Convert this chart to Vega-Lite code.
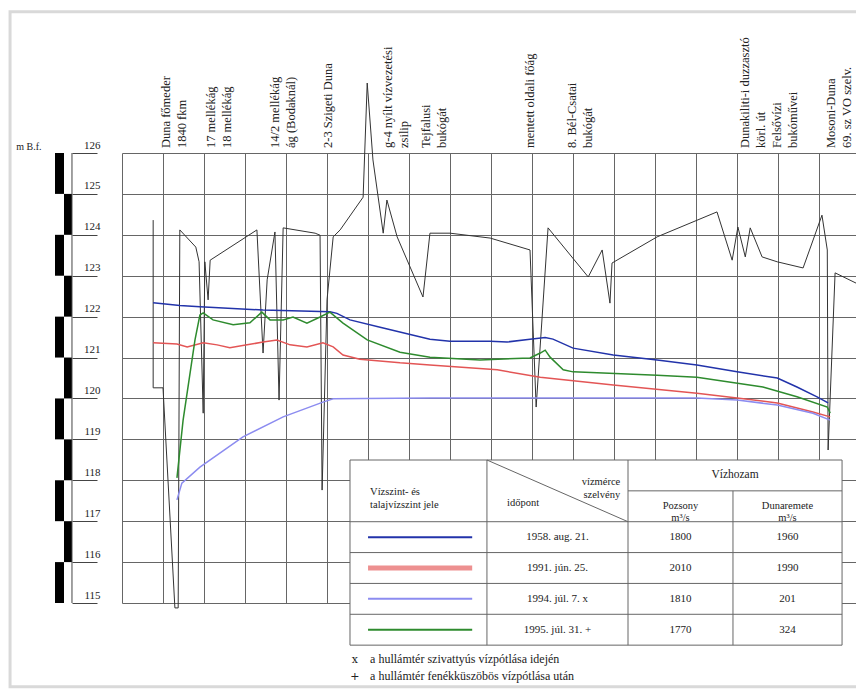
{
  "$schema": "https://vega.github.io/schema/vega-lite/v6.json",
  "width": 734,
  "height": 450,
  "autosize": {"type": "none"},
  "padding": {"left": 122, "top": 153, "right": 0, "bottom": 86},
  "background": "white",
  "config": {"view": {"stroke": null}, "font": "Liberation Serif", "text": {"font": "Liberation Serif"}},
  "datasets": {
    "profile": [
      {"km":0.76,"z":124.36},{"km":0.76,"z":120.26},{"km":1.0,"z":120.26},{"km":1.29,"z":114.88},{"km":1.37,"z":114.88},{"km":1.41,"z":124.12},{"km":1.8,"z":123.7},{"km":1.88,"z":123.34},{"km":1.98,"z":119.64},{"km":2.02,"z":123.34},{"km":2.1,"z":122.41},{"km":2.15,"z":123.38},{"km":3.29,"z":124.12},{"km":3.44,"z":121.11},{"km":3.54,"z":122.9},{"km":3.73,"z":124.07},{"km":3.83,"z":119.96},{"km":3.93,"z":124.17},{"km":4.71,"z":124.04},{"km":4.83,"z":123.99},{"km":4.88,"z":117.76},{"km":5.0,"z":122.41},{"km":5.15,"z":123.95},{"km":5.32,"z":124.12},{"km":5.88,"z":124.92},{"km":5.98,"z":127.71},{"km":6.12,"z":125.83},{"km":6.37,"z":124.04},{"km":6.46,"z":124.85},{"km":6.71,"z":123.95},{"km":7.34,"z":122.48},{"km":7.51,"z":124.04},{"km":8.0,"z":124.04},{"km":8.98,"z":123.92},{"km":9.95,"z":123.63},{"km":10.1,"z":119.79},{"km":10.39,"z":124.17},{"km":11.37,"z":122.97},{"km":11.71,"z":123.63},{"km":11.9,"z":122.33},{"km":11.95,"z":123.31},{"km":13.05,"z":123.95},{"km":14.51,"z":124.56},{"km":14.88,"z":123.38},{"km":15.02,"z":124.19},{"km":15.2,"z":123.46},{"km":15.32,"z":124.17},{"km":15.61,"z":123.46},{"km":15.98,"z":123.34},{"km":16.61,"z":123.19},{"km":17.07,"z":124.48},{"km":17.2,"z":123.63},{"km":17.22,"z":118.74},{"km":17.39,"z":123.07},{"km":17.9,"z":122.82}
    ],
    "levels": [
      {"series":"1958","km":0.76,"z":122.34},{"series":"1958","km":1.41,"z":122.27},{"series":"1958","km":1.9,"z":122.24},{"series":"1958","km":3.44,"z":122.16},{"series":"1958","km":5.07,"z":122.12},{"series":"1958","km":5.24,"z":122.08},{"series":"1958","km":5.56,"z":121.92},{"series":"1958","km":6.37,"z":121.72},{"series":"1958","km":7.51,"z":121.45},{"series":"1958","km":8.0,"z":121.4},{"series":"1958","km":8.98,"z":121.4},{"series":"1958","km":9.39,"z":121.38},{"series":"1958","km":9.95,"z":121.45},{"series":"1958","km":10.32,"z":121.49},{"series":"1958","km":10.51,"z":121.45},{"series":"1958","km":11.0,"z":121.23},{"series":"1958","km":11.98,"z":121.06},{"series":"1958","km":13.05,"z":120.94},{"series":"1958","km":14.02,"z":120.82},{"series":"1958","km":15.0,"z":120.65},{"series":"1958","km":15.98,"z":120.5},{"series":"1958","km":16.46,"z":120.28},{"series":"1958","km":16.95,"z":120.04},{"series":"1958","km":17.22,"z":119.89},
      {"series":"1991","km":0.76,"z":121.36},{"series":"1991","km":1.34,"z":121.33},{"series":"1991","km":1.59,"z":121.26},{"series":"1991","km":1.98,"z":121.36},{"series":"1991","km":2.32,"z":121.31},{"series":"1991","km":2.63,"z":121.24},{"series":"1991","km":3.05,"z":121.31},{"series":"1991","km":3.44,"z":121.38},{"series":"1991","km":3.78,"z":121.43},{"series":"1991","km":4.1,"z":121.31},{"series":"1991","km":4.51,"z":121.26},{"series":"1991","km":4.9,"z":121.36},{"series":"1991","km":5.15,"z":121.26},{"series":"1991","km":5.39,"z":121.06},{"series":"1991","km":5.8,"z":120.96},{"series":"1991","km":6.78,"z":120.87},{"series":"1991","km":7.51,"z":120.82},{"series":"1991","km":9.15,"z":120.7},{"series":"1991","km":10.2,"z":120.52},{"series":"1991","km":11.98,"z":120.33},{"series":"1991","km":14.02,"z":120.13},{"series":"1991","km":15.0,"z":120.01},{"series":"1991","km":15.98,"z":119.89},{"series":"1991","km":16.85,"z":119.67},{"series":"1991","km":17.27,"z":119.55},
      {"series":"1994","km":1.34,"z":117.52},{"series":"1994","km":1.46,"z":117.93},{"series":"1994","km":1.9,"z":118.32},{"series":"1994","km":2.95,"z":119.06},{"series":"1994","km":3.93,"z":119.55},{"series":"1994","km":4.9,"z":119.91},{"series":"1994","km":5.15,"z":119.99},{"series":"1994","km":7.51,"z":120.01},{"series":"1994","km":14.02,"z":120.01},{"series":"1994","km":15.0,"z":119.96},{"series":"1994","km":15.98,"z":119.84},{"series":"1994","km":16.85,"z":119.64},{"series":"1994","km":17.27,"z":119.47},
      {"series":"1995","km":1.34,"z":118.06},{"series":"1995","km":1.49,"z":119.47},{"series":"1995","km":1.78,"z":121.43},{"series":"1995","km":1.9,"z":122.04},{"series":"1995","km":1.98,"z":122.09},{"series":"1995","km":2.22,"z":121.92},{"series":"1995","km":2.71,"z":121.8},{"series":"1995","km":3.12,"z":121.85},{"series":"1995","km":3.41,"z":122.11},{"series":"1995","km":3.61,"z":121.92},{"series":"1995","km":3.93,"z":121.92},{"series":"1995","km":4.17,"z":121.99},{"series":"1995","km":4.51,"z":121.84},{"series":"1995","km":4.83,"z":121.99},{"series":"1995","km":5.07,"z":122.11},{"series":"1995","km":5.39,"z":121.84},{"series":"1995","km":5.98,"z":121.43},{"series":"1995","km":6.78,"z":121.13},{"series":"1995","km":7.51,"z":121.01},{"series":"1995","km":8.73,"z":120.94},{"series":"1995","km":9.95,"z":120.99},{"series":"1995","km":10.2,"z":121.11},{"series":"1995","km":10.32,"z":121.18},{"series":"1995","km":10.44,"z":121.01},{"series":"1995","km":10.76,"z":120.7},{"series":"1995","km":11.0,"z":120.65},{"series":"1995","km":13.05,"z":120.57},{"series":"1995","km":14.02,"z":120.52},{"series":"1995","km":15.63,"z":120.28},{"series":"1995","km":16.46,"z":120.04},{"series":"1995","km":17.2,"z":119.79},{"series":"1995","km":17.27,"z":119.64}
    ],
    "bar": [
      {"lo":125,"hi":126,"side":"L"},{"lo":124,"hi":125,"side":"R"},{"lo":123,"hi":124,"side":"L"},{"lo":122,"hi":123,"side":"R"},{"lo":121,"hi":122,"side":"L"},{"lo":120,"hi":121,"side":"R"},{"lo":119,"hi":120,"side":"L"},{"lo":118,"hi":119,"side":"R"},{"lo":117,"hi":118,"side":"L"},{"lo":116,"hi":117,"side":"R"},{"lo":115,"hi":116,"side":"L"}
    ],
    "sites": [
      {"km":1.07,"label":"Duna főmeder\n1840 fkm"},
      {"km":2.17,"label":"17 mellékág\n18 mellékág"},
      {"km":3.73,"label":"14/2 mellékág\nág (Bodaknál)"},
      {"km":5.02,"label":"2-3 Szigeti Duna"},
      {"km":6.48,"label":"g-4 nyílt vízvezetési\nzsilip"},
      {"km":7.41,"label":"Tejfalusi\nbukógát"},
      {"km":9.95,"label":"mentett oldali főág"},
      {"km":10.98,"label":"8. Bél-Csatai\nbukógát"},
      {"km":15.2,"label":"Dunakiliti-i duzzasztó\nkörl. út\nFelsővízi\nbukóművei"},
      {"km":17.3,"label":"Mosoni-Duna\n69. sz VO szelv."}
    ],
    "legend": [
      {"series":"1958","row":1,"date":"1958. aug. 21.","pozsony":1800,"dunaremete":1960},
      {"series":"1991","row":2,"date":"1991. jún. 25.","pozsony":2010,"dunaremete":1990},
      {"series":"1994","row":3,"date":"1994. júl. 7. x","pozsony":1810,"dunaremete":201},
      {"series":"1995","row":4,"date":"1995. júl. 31. +","pozsony":1770,"dunaremete":324}
    ],
    "one": [{}]
  },
  "layer": [
    {
      "data": {"name": "one"},
      "mark": {"type": "rect", "fillOpacity": 0, "stroke": "#d9d9d9", "strokeWidth": 3, "clip": false},
      "encoding": {
        "x": {"datum": -2.73, "type": "quantitative", "scale": {"domain": [0, 17.9], "nice": false, "zero": false}, "axis": null},
        "x2": {"datum": 18.5},
        "y": {"datum": 129.45, "type": "quantitative", "scale": {"domain": [115, 126], "nice": false, "zero": false}, "axis": null},
        "y2": {"datum": 112.95}
      }
    },
    {
      "data": {"name": "profile"},
      "mark": {"type": "line", "color": "#333", "strokeWidth": 1, "clip": false},
      "encoding": {
        "x": {"field": "km", "type": "quantitative", "scale": {"domain": [0, 17.9], "nice": false, "zero": false},
          "axis": {"orient": "bottom", "values": [0,1,2,3,4,5,6,7,8,9,10,11,12,13,14,15,16,17], "grid": true, "gridColor": "#666", "gridWidth": 1, "labels": false, "ticks": false, "domain": false, "title": null}},
        "y": {"field": "z", "type": "quantitative", "scale": {"domain": [115, 126], "nice": false, "zero": false},
          "axis": {"orient": "left", "values": [115,116,117,118,119,120,121,122,123,124,125,126], "grid": true, "gridColor": "#666", "gridWidth": 1, "labels": false, "ticks": false, "domain": false, "title": null}},
        "order": {"value": null}
      }
    },
    {
      "data": {"name": "levels"},
      "mark": {"type": "line", "strokeWidth": 1.5, "clip": false},
      "encoding": {
        "x": {"field": "km", "type": "quantitative", "scale": {"domain": [0, 17.9], "nice": false, "zero": false}, "axis": null},
        "y": {"field": "z", "type": "quantitative", "scale": {"domain": [115, 126], "nice": false, "zero": false},
          "axis": {"orient": "left", "values": [115,116,117,118,119,120,121,122,123,124,125,126], "offset": 25, "tickSize": 25, "tickColor": "#444", "domain": false, "grid": false, "labelPadding": -28, "labelAlign": "right", "labelBaseline": "alphabetic", "labelOffset": -5, "labelFont": "Liberation Serif", "labelFontSize": 11, "labelColor": "#222", "title": null}},
        "color": {"field": "series", "type": "nominal", "scale": {"domain": ["1958","1991","1994","1995"], "range": ["#2233aa","#e35555","#8c8cf0","#2e8b2e"]}, "legend": null}
      }
    },
    {
      "data": {"name": "bar"},
      "transform": [{"filter": "datum.side === 'L'"}],
      "mark": {"type": "rect", "color": "black", "clip": false},
      "encoding": {
        "x": {"datum": -1.634, "type": "quantitative", "scale": {"domain": [0, 17.9], "nice": false, "zero": false}, "axis": null},
        "x2": {"datum": -1.415},
        "y": {"field": "lo", "type": "quantitative", "scale": {"domain": [115, 126], "nice": false, "zero": false}, "axis": null},
        "y2": {"field": "hi"}
      }
    },
    {
      "data": {"name": "bar"},
      "transform": [{"filter": "datum.side === 'R'"}],
      "mark": {"type": "rect", "color": "black", "clip": false},
      "encoding": {
        "x": {"datum": -1.415, "type": "quantitative", "scale": {"domain": [0, 17.9], "nice": false, "zero": false}, "axis": null},
        "x2": {"datum": -1.22},
        "y": {"field": "lo", "type": "quantitative", "scale": {"domain": [115, 126], "nice": false, "zero": false}, "axis": null},
        "y2": {"field": "hi"}
      }
    },
    {
      "data": {"name": "one"},
      "mark": {"type": "rule", "color": "#444", "strokeWidth": 1, "clip": false},
      "encoding": {
        "x": {"datum": -1.22, "type": "quantitative", "scale": {"domain": [0, 17.9], "nice": false, "zero": false}, "axis": null},
        "y": {"datum": 115, "type": "quantitative", "scale": {"domain": [115, 126], "nice": false, "zero": false}, "axis": null},
        "y2": {"datum": 126}
      }
    },
    {
      "data": {"name": "one"},
      "mark": {"type": "text", "text": "m B.f.", "fontSize": 10, "color": "#222", "align": "center", "baseline": "middle", "dy": -6, "clip": false},
      "encoding": {
        "x": {"datum": -2.27, "type": "quantitative", "scale": {"domain": [0, 17.9], "nice": false, "zero": false}, "axis": null},
        "y": {"datum": 126, "type": "quantitative", "scale": {"domain": [115, 126], "nice": false, "zero": false}, "axis": null}
      }
    },
    {
      "data": {"name": "sites"},
      "mark": {"type": "text", "angle": 270, "align": "left", "baseline": "middle", "dx": 5, "lineBreak": "\n", "lineHeight": 16, "fontSize": 12.5, "color": "#222", "clip": false},
      "encoding": {
        "x": {"field": "km", "type": "quantitative", "scale": {"domain": [0, 17.9], "nice": false, "zero": false}, "axis": null},
        "y": {"datum": 126, "type": "quantitative", "scale": {"domain": [115, 126], "nice": false, "zero": false}, "axis": null},
        "text": {"field": "label", "type": "nominal"}
      }
    },
    {
      "layer": [
        {
          "data": {"name": "one"},
          "mark": {"type": "rect", "fill": "white", "stroke": "#666", "strokeWidth": 1, "clip": false},
          "encoding": {
            "x": {"datum": 5.56, "type": "quantitative", "scale": {"domain": [0, 17.9], "nice": false, "zero": false}, "axis": null},
            "x2": {"datum": 17.56},
            "y": {"datum": -1, "type": "ordinal", "bandPosition": 0, "scale": {"type": "band", "domain": [-1,0,1,2,3,4,5], "range": [307, 523], "paddingInner": 0, "paddingOuter": 0}, "axis": null},
            "y2": {"datum": 5, "bandPosition": 0}
          }
        },
        {
          "data": {"name": "legend"},
          "mark": {"type": "rule", "color": "#666", "strokeWidth": 1, "clip": false},
          "encoding": {
            "x": {"datum": 5.56, "type": "quantitative", "axis": null},
            "x2": {"datum": 17.56},
            "y": {"field": "row", "type": "ordinal", "bandPosition": 0, "axis": null}
          }
        },
        {
          "data": {"name": "one"},
          "mark": {"type": "rule", "color": "#666", "strokeWidth": 1, "clip": false},
          "encoding": {
            "x": {"datum": 12.34, "type": "quantitative", "axis": null},
            "x2": {"datum": 17.56},
            "y": {"datum": 0, "type": "ordinal", "bandPosition": 0, "axis": null}
          }
        },
        {
          "data": {"name": "one"},
          "mark": {"type": "rule", "color": "#666", "strokeWidth": 1, "clip": false},
          "encoding": {
            "x": {"datum": 8.9, "type": "quantitative", "axis": null},
            "y": {"datum": -1, "type": "ordinal", "bandPosition": 0, "axis": null},
            "y2": {"datum": 5, "bandPosition": 0}
          }
        },
        {
          "data": {"name": "one"},
          "mark": {"type": "rule", "color": "#666", "strokeWidth": 1, "clip": false},
          "encoding": {
            "x": {"datum": 12.34, "type": "quantitative", "axis": null},
            "y": {"datum": -1, "type": "ordinal", "bandPosition": 0, "axis": null},
            "y2": {"datum": 5, "bandPosition": 0}
          }
        },
        {
          "data": {"name": "one"},
          "mark": {"type": "rule", "color": "#666", "strokeWidth": 1, "clip": false},
          "encoding": {
            "x": {"datum": 14.9, "type": "quantitative", "axis": null},
            "y": {"datum": 0, "type": "ordinal", "bandPosition": 0, "axis": null},
            "y2": {"datum": 5, "bandPosition": 0}
          }
        },
        {
          "data": {"name": "one"},
          "mark": {"type": "rule", "color": "#666", "strokeWidth": 1, "clip": false},
          "encoding": {
            "x": {"datum": 8.9, "type": "quantitative", "axis": null},
            "x2": {"datum": 12.34},
            "y": {"datum": -1, "type": "ordinal", "bandPosition": 0, "axis": null},
            "y2": {"datum": 1, "bandPosition": 0}
          }
        },
        {
          "data": {"name": "legend"},
          "mark": {"type": "rule", "clip": false},
          "encoding": {
            "x": {"datum": 6.0, "type": "quantitative", "axis": null},
            "x2": {"datum": 8.54},
            "y": {"field": "row", "type": "ordinal", "bandPosition": 0.5, "axis": null},
            "color": {"field": "series", "type": "nominal", "legend": null},
            "strokeWidth": {"condition": {"test": "datum.series === '1991'", "value": 5}, "value": 2},
            "strokeOpacity": {"condition": {"test": "datum.series === '1991'", "value": 0.65}, "value": 1}
          }
        },
        {
          "data": {"name": "legend"},
          "mark": {"type": "text", "fontSize": 11, "color": "#222", "align": "center", "baseline": "middle", "clip": false},
          "encoding": {
            "x": {"datum": 10.62, "type": "quantitative", "axis": null},
            "y": {"field": "row", "type": "ordinal", "axis": null},
            "text": {"field": "date", "type": "nominal"}
          }
        },
        {
          "data": {"name": "legend"},
          "mark": {"type": "text", "fontSize": 11, "color": "#222", "align": "center", "baseline": "middle", "clip": false},
          "encoding": {
            "x": {"datum": 13.62, "type": "quantitative", "axis": null},
            "y": {"field": "row", "type": "ordinal", "axis": null},
            "text": {"field": "pozsony", "type": "nominal"}
          }
        },
        {
          "data": {"name": "legend"},
          "mark": {"type": "text", "fontSize": 11, "color": "#222", "align": "center", "baseline": "middle", "clip": false},
          "encoding": {
            "x": {"datum": 16.23, "type": "quantitative", "axis": null},
            "y": {"field": "row", "type": "ordinal", "axis": null},
            "text": {"field": "dunaremete", "type": "nominal"}
          }
        },
        {
          "data": {"name": "one"},
          "mark": {"type": "text", "text": ["Vízszint- és", "talajvízszint jele"], "lineHeight": 13, "fontSize": 10.5, "color": "#222", "align": "left", "baseline": "middle", "clip": false},
          "encoding": {
            "x": {"datum": 6.05, "type": "quantitative", "axis": null},
            "y": {"datum": 0, "type": "ordinal", "bandPosition": 0.05, "axis": null}
          }
        },
        {
          "data": {"name": "one"},
          "mark": {"type": "text", "text": ["vízmérce", "szelvény"], "lineHeight": 13, "fontSize": 10.5, "color": "#222", "align": "right", "baseline": "middle", "clip": false},
          "encoding": {
            "x": {"datum": 12.15, "type": "quantitative", "axis": null},
            "y": {"datum": -1, "type": "ordinal", "bandPosition": 0.7, "axis": null}
          }
        },
        {
          "data": {"name": "one"},
          "mark": {"type": "text", "text": "időpont", "fontSize": 10.5, "color": "#222", "align": "left", "baseline": "middle", "clip": false},
          "encoding": {
            "x": {"datum": 9.39, "type": "quantitative", "axis": null},
            "y": {"datum": 0, "type": "ordinal", "bandPosition": 0.4, "axis": null}
          }
        },
        {
          "data": {"name": "one"},
          "mark": {"type": "text", "text": "Vízhozam", "fontSize": 11.5, "color": "#222", "align": "center", "baseline": "middle", "clip": false},
          "encoding": {
            "x": {"datum": 14.95, "type": "quantitative", "axis": null},
            "y": {"datum": -1, "type": "ordinal", "bandPosition": 0.5, "axis": null}
          }
        },
        {
          "data": {"name": "one"},
          "mark": {"type": "text", "text": ["Pozsony", "m³/s"], "lineHeight": 12, "fontSize": 10.5, "color": "#222", "align": "center", "baseline": "middle", "clip": false},
          "encoding": {
            "x": {"datum": 13.62, "type": "quantitative", "axis": null},
            "y": {"datum": 0, "type": "ordinal", "bandPosition": 0.5, "axis": null}
          }
        },
        {
          "data": {"name": "one"},
          "mark": {"type": "text", "text": ["Dunaremete", "m³/s"], "lineHeight": 12, "fontSize": 10.5, "color": "#222", "align": "center", "baseline": "middle", "clip": false},
          "encoding": {
            "x": {"datum": 16.23, "type": "quantitative", "axis": null},
            "y": {"datum": 0, "type": "ordinal", "bandPosition": 0.5, "axis": null}
          }
        },
        {
          "data": {"name": "one"},
          "mark": {"type": "text", "text": ["x", "+"], "lineHeight": 17, "fontSize": 11, "color": "#222", "font": "DejaVu Serif", "align": "center", "baseline": "top", "dy": 9, "clip": false},
          "encoding": {
            "x": {"datum": 5.68, "type": "quantitative", "axis": null},
            "y": {"datum": 5, "type": "ordinal", "bandPosition": 0, "axis": null}
          }
        },
        {
          "data": {"name": "one"},
          "mark": {"type": "text", "text": ["a hullámtér szivattyús vízpótlása idején", "a hullámtér fenékküszöbös vízpótlása után"], "lineHeight": 17, "fontSize": 12, "color": "#222", "align": "left", "baseline": "top", "dy": 9, "clip": false},
          "encoding": {
            "x": {"datum": 6.05, "type": "quantitative", "axis": null},
            "y": {"datum": 5, "type": "ordinal", "bandPosition": 0, "axis": null}
          }
        }
      ]
    }
  ],
  "resolve": {"scale": {"x": "independent", "y": "independent"}}
}
